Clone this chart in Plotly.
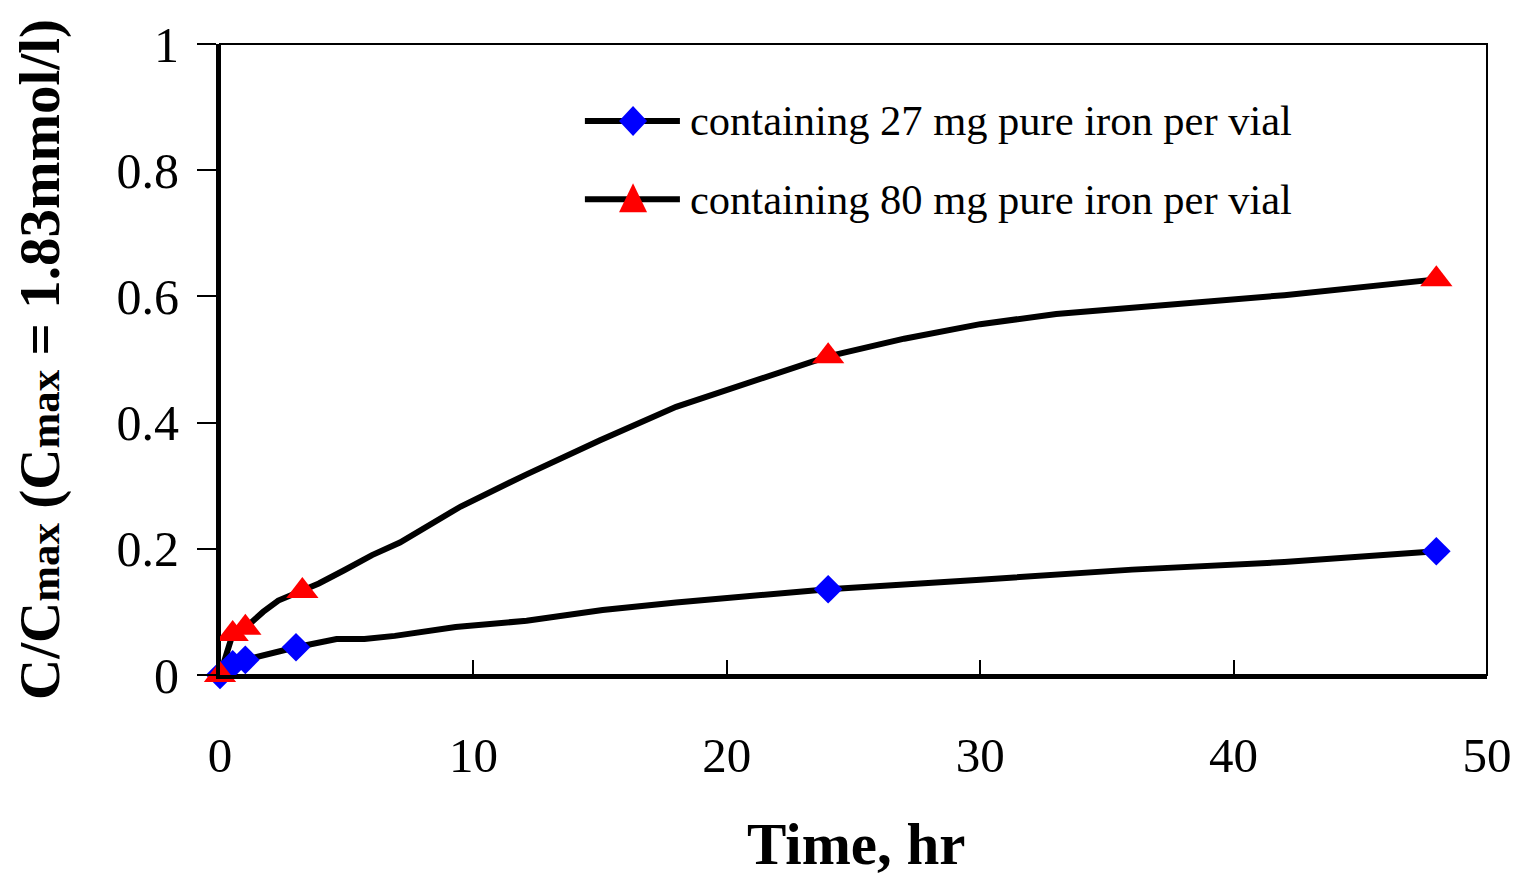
import plotly.graph_objects as go

# Measured points
time_27 = [0, 0.5, 1, 3, 24, 48]
conc_27 = [0, 0.017, 0.024, 0.044, 0.136, 0.196]
time_80 = [0, 0.5, 1, 3.25, 24, 48]
conc_80 = [0, 0.065, 0.075, 0.133, 0.505, 0.627]

# Fitted curves (drawn as black lines)
curve_t_27 = [0, 0.5, 1, 3, 4.6, 5.7, 6.9, 9.3, 12.1, 15.1, 18, 21, 24, 30, 36, 42, 48]
curve_c_27 = [0, 0.017, 0.024, 0.044, 0.057, 0.057, 0.062, 0.076, 0.086, 0.103, 0.115, 0.126,
              0.136, 0.151, 0.167, 0.179, 0.196]
curve_t_80 = [0, 0.5, 1, 1.7, 2.3, 3.25, 3.9, 4.9, 6, 7.1, 8.2, 9.5, 12.1, 15, 18, 21, 24,
              27, 30, 33, 42, 48]
curve_c_80 = [0, 0.065, 0.075, 0.1, 0.118, 0.133, 0.145, 0.166, 0.19, 0.21, 0.237, 0.267,
              0.318, 0.372, 0.425, 0.466, 0.505, 0.533, 0.556, 0.572, 0.602, 0.627]

labels = ["containing 27 mg pure iron per vial", "containing 80 mg pure iron per vial"]
x_ticks = [0, 10, 20, 30, 40, 50]
y_ticks = [0, 0.2, 0.4, 0.6, 0.8, 1]
x_title = "Time, hr"

FONT = "Liberation Serif, Times New Roman, serif"
BLUE = "#0000FF"
RED = "#FF0000"
LW = 6

fig = go.Figure()
fig.add_trace(go.Scatter(x=curve_t_27, y=curve_c_27, mode="lines",
                         line=dict(color="black", width=LW), showlegend=False, hoverinfo="skip"))
fig.add_trace(go.Scatter(x=curve_t_80, y=curve_c_80, mode="lines",
                         line=dict(color="black", width=LW), showlegend=False, hoverinfo="skip"))
fig.add_trace(go.Scatter(x=time_27, y=conc_27, mode="markers", cliponaxis=False,
                         marker=dict(symbol="diamond", size=22, color=BLUE),
                         name=labels[0], showlegend=False))
fig.add_trace(go.Scatter(x=time_80, y=conc_80, mode="markers", cliponaxis=False,
                         marker=dict(symbol="triangle-up", size=28, color=RED),
                         name=labels[1], showlegend=False))

# Manual legend (line + marker glyph + label), positioned in paper coordinates
leg_x0, leg_x1, leg_xm, leg_xt = 0.288, 0.363, 0.326, 0.369
leg_rows = [0.878, 0.754]
diamond_path = "M0,15 L14,0 L0,-15 L-14,0 Z"
triangle_path = "M0,16 L14,-13 L-14,-13 Z"
shapes = [dict(type="rect", xref="paper", yref="paper", x0=0, y0=0, x1=1, y1=1,
               line=dict(color="black", width=2), layer="below")]
annotations = []
for yrow, path, col, lab in zip(leg_rows, [diamond_path, triangle_path], [BLUE, RED], labels):
    shapes.append(dict(type="line", xref="paper", yref="paper", x0=leg_x0, x1=leg_x1,
                       y0=yrow, y1=yrow, line=dict(color="black", width=LW)))
    shapes.append(dict(type="path", xref="paper", yref="paper", xsizemode="pixel",
                       ysizemode="pixel", xanchor=leg_xm, yanchor=yrow, path=path,
                       fillcolor=col, line=dict(color=col, width=0)))
    annotations.append(dict(xref="paper", yref="paper", x=leg_xt, y=yrow, text=lab,
                            showarrow=False, xanchor="left", yanchor="middle",
                            font=dict(family=FONT, size=42.5, color="black")))

# x-axis title placed as an annotation, kept fully inside the figure
annotations.append(dict(xref="paper", yref="paper", x=0.502, y=-0.323,
                        text="<b>" + x_title + "</b>", showarrow=False,
                        xanchor="center", yanchor="bottom",
                        font=dict(family=FONT, size=59, color="black")))

ytitle = ("<b>C/C<span style='font-size:43px'>max</span> (C<span style='font-size:43px'>max</span>"
          " = 1.83mmol/l)</b>")

fig.update_layout(
    width=1504, height=872,
    margin=dict(l=212, r=25, t=36, b=205),
    paper_bgcolor="white", plot_bgcolor="white",
    font=dict(family=FONT, color="black"),
    showlegend=False,
    xaxis=dict(range=[0, 50], tickvals=x_ticks, ticktext=[str(v) for v in x_ticks],
               ticks="inside", ticklen=15, tickwidth=2, tickcolor="black", automargin=False,
               showline=True, linewidth=4, linecolor="black", showgrid=False, zeroline=False,
               tickfont=dict(family=FONT, size=49), ticklabelstandoff=34),
    yaxis=dict(range=[0, 1], tickvals=y_ticks, ticktext=["0", "0.2", "0.4", "0.6", "0.8", "1"],
               ticks="outside", ticklen=19, tickwidth=2, tickcolor="black", automargin=False,
               showline=True, linewidth=4, linecolor="black", showgrid=False, zeroline=False,
               tickfont=dict(family=FONT, size=50), ticklabelstandoff=8,
               title=dict(text=ytitle, font=dict(family=FONT, size=57), standoff=42)),
    shapes=shapes,
    annotations=annotations,
)

fig.write_html("out.html")
